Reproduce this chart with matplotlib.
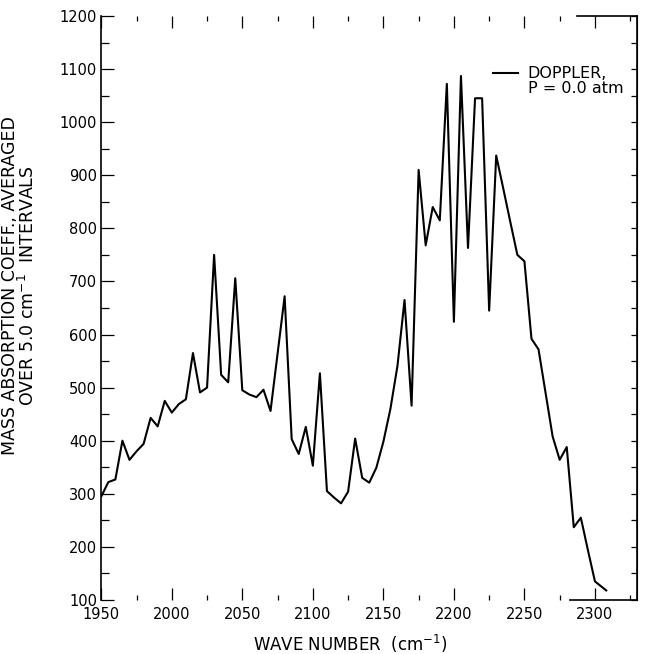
import matplotlib
matplotlib.use('Agg')
import matplotlib.pyplot as plt
from matplotlib.ticker import MultipleLocator

# mass absorption coefficient averaged over 5 cm-1 intervals (Doppler, P = 0 atm)
wavenumber = [1950, 1955, 1960, 1965, 1970, 1975, 1980, 1985, 1990, 1995,
              2000, 2005, 2010, 2015, 2020, 2025, 2030, 2035, 2040, 2045,
              2050, 2055, 2060, 2065, 2070, 2075, 2080, 2085, 2090, 2095,
              2100, 2105, 2110, 2115, 2120, 2125, 2130, 2135, 2140, 2145,
              2150, 2155, 2160, 2165, 2170, 2175, 2180, 2185, 2190, 2195,
              2200, 2205, 2210, 2215, 2220, 2225, 2230, 2235, 2240, 2245,
              2250, 2255, 2260, 2265, 2270, 2275, 2280, 2285, 2290, 2295,
              2300, 2308]
coeff = [295, 322, 327, 400, 364, 380, 394, 443, 427, 475,
         453, 469, 478, 565, 491, 500, 750, 524, 510, 706,
         495, 487, 482, 496, 456, 564, 672, 403, 375, 426,
         353, 527, 305, 293, 282, 304, 404, 330, 321, 349,
         398, 460, 541, 665, 466, 910, 768, 840, 815, 1072,
         624, 1087, 763, 1045, 1045, 645, 937, 875, 812, 750,
         738, 592, 572, 490, 408, 364, 388, 237, 255, 194,
         135, 118]

plt.rcParams['font.family'] = 'DejaVu Sans'

fig = plt.figure(figsize=(6.45, 6.54), dpi=100)
ax = fig.add_axes([0.157, 0.0826, 0.831, 0.893])

ax.plot(wavenumber, coeff, color='black', lw=1.5, label='DOPPLER,')
ax.plot([], [], color='none', label='P = 0.0 atm')

ax.set_xlim(1950, 2330)
ax.set_ylim(100, 1200)

ax.xaxis.set_major_locator(MultipleLocator(50))
ax.xaxis.set_minor_locator(MultipleLocator(25))
ax.yaxis.set_major_locator(MultipleLocator(100))
ax.yaxis.set_minor_locator(MultipleLocator(50))
ax.set_xticks([1950, 2000, 2050, 2100, 2150, 2200, 2250, 2300])

ax.tick_params(axis='x', which='both', direction='in', top=True, bottom=True,
               width=0.9, labelsize=10.5, pad=5)
ax.tick_params(axis='x', which='major', length=8.5)
ax.tick_params(axis='x', which='minor', length=3.5)
ax.tick_params(axis='y', which='both', direction='in', left=True, right=False,
               width=0.9, labelsize=10.5, pad=3)
ax.tick_params(axis='y', which='major', length=9)
ax.tick_params(axis='y', which='minor', length=6)

# right side has short ticks every 50
sec = ax.secondary_yaxis('right')
sec.yaxis.set_major_locator(MultipleLocator(50))
sec.tick_params(direction='in', length=4.5, width=0.9, labelright=False)

# scanned frame only shows near the right corner on top and bottom
ax.spines['top'].set_bounds(2287, 2330)
ax.spines['bottom'].set_bounds(2282, 2330)
for s in ax.spines.values():
    s.set_linewidth(1.2)

ax.set_xlabel('WAVE NUMBER  (cm$^{-1}$)', fontsize=12)
ax.xaxis.set_label_coords(0.465, -0.056)
ax.set_ylabel('MASS ABSORPTION COEFF., AVERAGED\nOVER 5.0 cm$^{-1}$  INTERVALS',
              fontsize=12.5, linespacing=0.95)
ax.yaxis.set_label_coords(-0.118, 0.539)

ax.legend(loc='upper right', bbox_to_anchor=(0.974, 0.914), frameon=False,
          fontsize=11.5, handlelength=1.6, handletextpad=0.6, labelspacing=0.0,
          borderpad=0, borderaxespad=0)

fig.savefig('out.png', dpi=100)
